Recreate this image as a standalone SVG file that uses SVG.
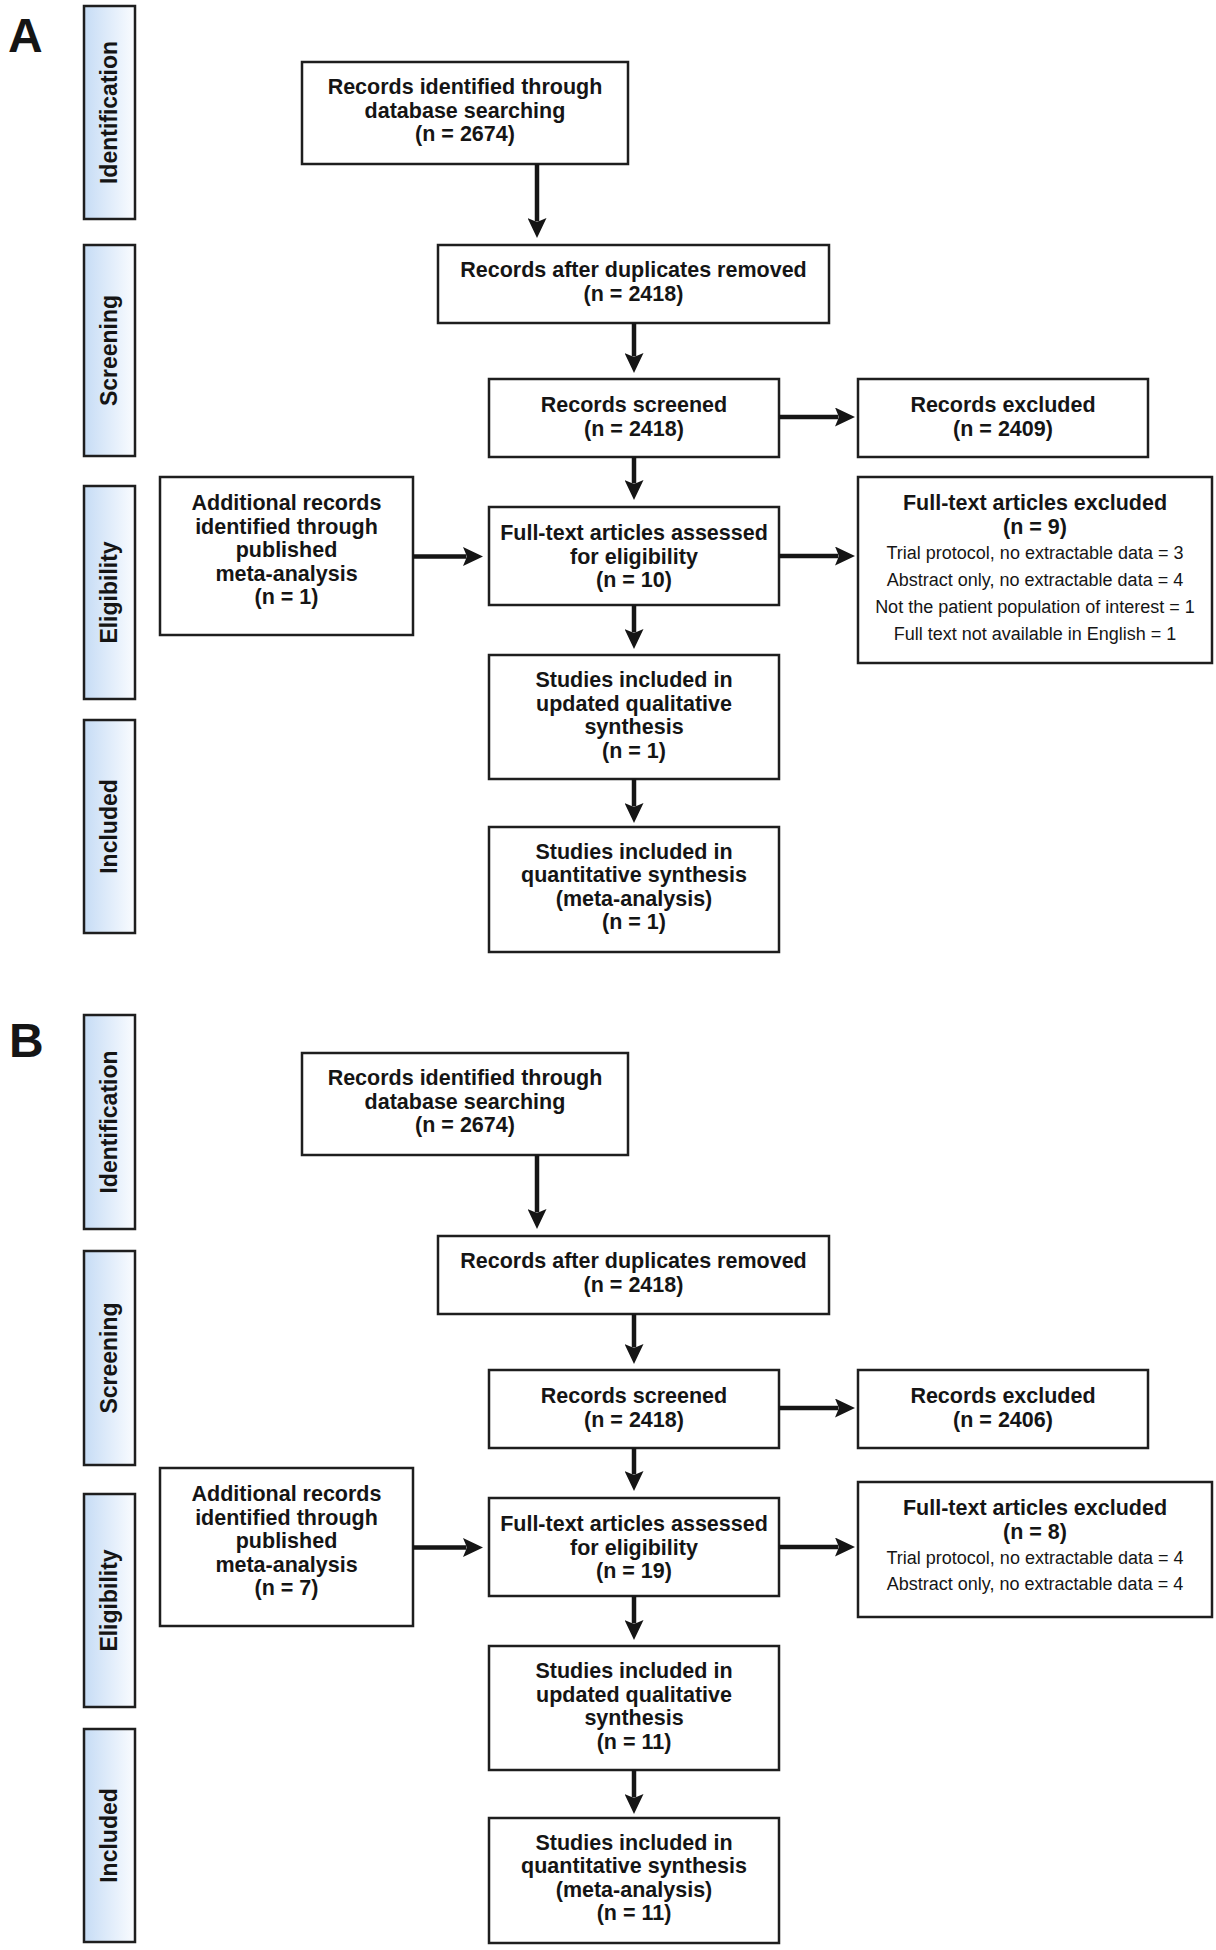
<svg xmlns="http://www.w3.org/2000/svg" width="1216" height="1950" viewBox="0 0 1216 1950">
<defs>
<linearGradient id="sideGrad" x1="0" y1="0" x2="1" y2="0">
<stop offset="0" stop-color="#c6dcf5"/>
<stop offset="1" stop-color="#fafcff"/>
</linearGradient>
<marker id="arrow" viewBox="0 0 20 19" markerWidth="20" markerHeight="19" markerUnits="userSpaceOnUse" refX="3.5" refY="9.5" orient="auto">
<path d="M0,0 L20,9.5 L0,19 L4,9.5 Z" fill="#151515"/>
</marker>
</defs>
<style>
text { font-family: "Liberation Sans", Arial, Helvetica, sans-serif; fill: #151515; }
.box { fill: #ffffff; stroke: #1e1e1e; stroke-width: 2.5; }
.side { fill: url(#sideGrad); stroke: #1e1e1e; stroke-width: 2.5; }
.t { font-size: 21.5px; font-weight: bold; text-anchor: middle; }
.s { font-size: 18px; text-anchor: middle; }
.st { font-size: 23px; font-weight: bold; text-anchor: middle; }
.panel { font-size: 48px; font-weight: bold; }
.conn { stroke: #151515; stroke-width: 4.5; fill: none; marker-end: url(#arrow); }
</style>
<rect width="1216" height="1950" fill="#ffffff"/>

<!-- Panel A -->
<text class="panel" x="8" y="52">A</text>

<g id="A-side-identification"><rect class="side" x="84" y="6" width="51" height="213"/><text class="st" transform="translate(117,112.5) rotate(-90)">Identification</text></g>
<g id="A-side-screening"><rect class="side" x="84" y="245" width="51" height="211"/><text class="st" transform="translate(117,350.5) rotate(-90)">Screening</text></g>
<g id="A-side-eligibility"><rect class="side" x="84" y="486" width="51" height="213"/><text class="st" transform="translate(117,592.5) rotate(-90)">Eligibility</text></g>
<g id="A-side-included"><rect class="side" x="84" y="720" width="51" height="213"/><text class="st" transform="translate(117,826.5) rotate(-90)">Included</text></g>

<g id="A-identified"><rect class="box" x="302" y="62" width="326" height="102"/>
<text class="t" x="465" y="94">Records identified through</text>
<text class="t" x="465" y="117.5">database searching</text>
<text class="t" x="465" y="141">(n = 2674)</text></g>

<g id="A-duplicates"><rect class="box" x="438" y="245" width="391" height="78"/>
<text class="t" x="633.5" y="277">Records after duplicates removed</text>
<text class="t" x="633.5" y="300.5">(n = 2418)</text></g>

<g id="A-screened"><rect class="box" x="489" y="379" width="290" height="78"/>
<text class="t" x="634" y="412">Records screened</text>
<text class="t" x="634" y="436">(n = 2418)</text></g>

<g id="A-excluded"><rect class="box" x="858" y="379" width="290" height="78"/>
<text class="t" x="1003" y="412">Records excluded</text>
<text class="t" x="1003" y="436">(n = 2409)</text></g>

<g id="A-additional"><rect class="box" x="160" y="477" width="253" height="158"/>
<text class="t" x="286.5" y="510">Additional records</text>
<text class="t" x="286.5" y="533.5">identified through</text>
<text class="t" x="286.5" y="557">published</text>
<text class="t" x="286.5" y="580.5">meta-analysis</text>
<text class="t" x="286.5" y="604">(n = 1)</text></g>

<g id="A-assessed"><rect class="box" x="489" y="507" width="290" height="98"/>
<text class="t" x="634" y="540">Full-text articles assessed</text>
<text class="t" x="634" y="563.5">for eligibility</text>
<text class="t" x="634" y="587">(n = 10)</text></g>

<g id="A-ft-excluded"><rect class="box" x="858" y="477" width="354" height="186"/>
<text class="t" x="1035" y="510">Full-text articles excluded</text>
<text class="t" x="1035" y="534">(n = 9)</text>
<text class="s" x="1035" y="559">Trial protocol, no extractable data = 3</text>
<text class="s" x="1035" y="586">Abstract only, no extractable data = 4</text>
<text class="s" x="1035" y="613">Not the patient population of interest = 1</text>
<text class="s" x="1035" y="640">Full text not available in English = 1</text></g>

<g id="A-qualitative"><rect class="box" x="489" y="655" width="290" height="124"/>
<text class="t" x="634" y="687">Studies included in</text>
<text class="t" x="634" y="710.5">updated qualitative</text>
<text class="t" x="634" y="734">synthesis</text>
<text class="t" x="634" y="757.5">(n = 1)</text></g>

<g id="A-quantitative"><rect class="box" x="489" y="827" width="290" height="125"/>
<text class="t" x="634" y="858.5">Studies included in</text>
<text class="t" x="634" y="882">quantitative synthesis</text>
<text class="t" x="634" y="905.5">(meta-analysis)</text>
<text class="t" x="634" y="929">(n = 1)</text></g>

<!-- Panel B -->
<text class="panel" x="9" y="1057">B</text>

<g id="B-side-identification"><rect class="side" x="84" y="1015" width="51" height="214"/><text class="st" transform="translate(117,1122) rotate(-90)">Identification</text></g>
<g id="B-side-screening"><rect class="side" x="84" y="1251" width="51" height="214"/><text class="st" transform="translate(117,1358) rotate(-90)">Screening</text></g>
<g id="B-side-eligibility"><rect class="side" x="84" y="1494" width="51" height="213"/><text class="st" transform="translate(117,1600.5) rotate(-90)">Eligibility</text></g>
<g id="B-side-included"><rect class="side" x="84" y="1729" width="51" height="213"/><text class="st" transform="translate(117,1835.5) rotate(-90)">Included</text></g>

<g id="B-identified"><rect class="box" x="302" y="1053" width="326" height="102"/>
<text class="t" x="465" y="1085">Records identified through</text>
<text class="t" x="465" y="1108.5">database searching</text>
<text class="t" x="465" y="1132">(n = 2674)</text></g>

<g id="B-duplicates"><rect class="box" x="438" y="1236" width="391" height="78"/>
<text class="t" x="633.5" y="1268">Records after duplicates removed</text>
<text class="t" x="633.5" y="1291.5">(n = 2418)</text></g>

<g id="B-screened"><rect class="box" x="489" y="1370" width="290" height="78"/>
<text class="t" x="634" y="1403">Records screened</text>
<text class="t" x="634" y="1427">(n = 2418)</text></g>

<g id="B-excluded"><rect class="box" x="858" y="1370" width="290" height="78"/>
<text class="t" x="1003" y="1403">Records excluded</text>
<text class="t" x="1003" y="1427">(n = 2406)</text></g>

<g id="B-additional"><rect class="box" x="160" y="1468" width="253" height="158"/>
<text class="t" x="286.5" y="1501">Additional records</text>
<text class="t" x="286.5" y="1524.5">identified through</text>
<text class="t" x="286.5" y="1548">published</text>
<text class="t" x="286.5" y="1571.5">meta-analysis</text>
<text class="t" x="286.5" y="1595">(n = 7)</text></g>

<g id="B-assessed"><rect class="box" x="489" y="1498" width="290" height="98"/>
<text class="t" x="634" y="1531">Full-text articles assessed</text>
<text class="t" x="634" y="1554.5">for eligibility</text>
<text class="t" x="634" y="1578">(n = 19)</text></g>

<g id="B-ft-excluded"><rect class="box" x="858" y="1482" width="354" height="135"/>
<text class="t" x="1035" y="1515">Full-text articles excluded</text>
<text class="t" x="1035" y="1538.5">(n = 8)</text>
<text class="s" x="1035" y="1564">Trial protocol, no extractable data = 4</text>
<text class="s" x="1035" y="1590">Abstract only, no extractable data = 4</text></g>

<g id="B-qualitative"><rect class="box" x="489" y="1646" width="290" height="124"/>
<text class="t" x="634" y="1678">Studies included in</text>
<text class="t" x="634" y="1701.5">updated qualitative</text>
<text class="t" x="634" y="1725">synthesis</text>
<text class="t" x="634" y="1748.5">(n = 11)</text></g>

<g id="B-quantitative"><rect class="box" x="489" y="1818" width="290" height="125"/>
<text class="t" x="634" y="1849.5">Studies included in</text>
<text class="t" x="634" y="1873">quantitative synthesis</text>
<text class="t" x="634" y="1896.5">(meta-analysis)</text>
<text class="t" x="634" y="1920">(n = 11)</text></g>

<g id="connectors">
<line class="conn" x1="537" y1="164" x2="537" y2="221.5"/>
<line class="conn" x1="634" y1="323" x2="634" y2="356.5"/>
<line class="conn" x1="779" y1="417" x2="838.5" y2="417"/>
<line class="conn" x1="634" y1="457" x2="634" y2="483.5"/>
<line class="conn" x1="413" y1="556.5" x2="466.5" y2="556.5"/>
<line class="conn" x1="779" y1="556" x2="838.5" y2="556"/>
<line class="conn" x1="634" y1="605" x2="634" y2="632.5"/>
<line class="conn" x1="634" y1="779" x2="634" y2="806.5"/>

<line class="conn" x1="537" y1="1155" x2="537" y2="1212.5"/>
<line class="conn" x1="634" y1="1314" x2="634" y2="1347.5"/>
<line class="conn" x1="779" y1="1408" x2="838.5" y2="1408"/>
<line class="conn" x1="634" y1="1448" x2="634" y2="1474.5"/>
<line class="conn" x1="413" y1="1547.5" x2="466.5" y2="1547.5"/>
<line class="conn" x1="779" y1="1547" x2="838.5" y2="1547"/>
<line class="conn" x1="634" y1="1596" x2="634" y2="1623.5"/>
<line class="conn" x1="634" y1="1770" x2="634" y2="1797.5"/>
</g>
</svg>
